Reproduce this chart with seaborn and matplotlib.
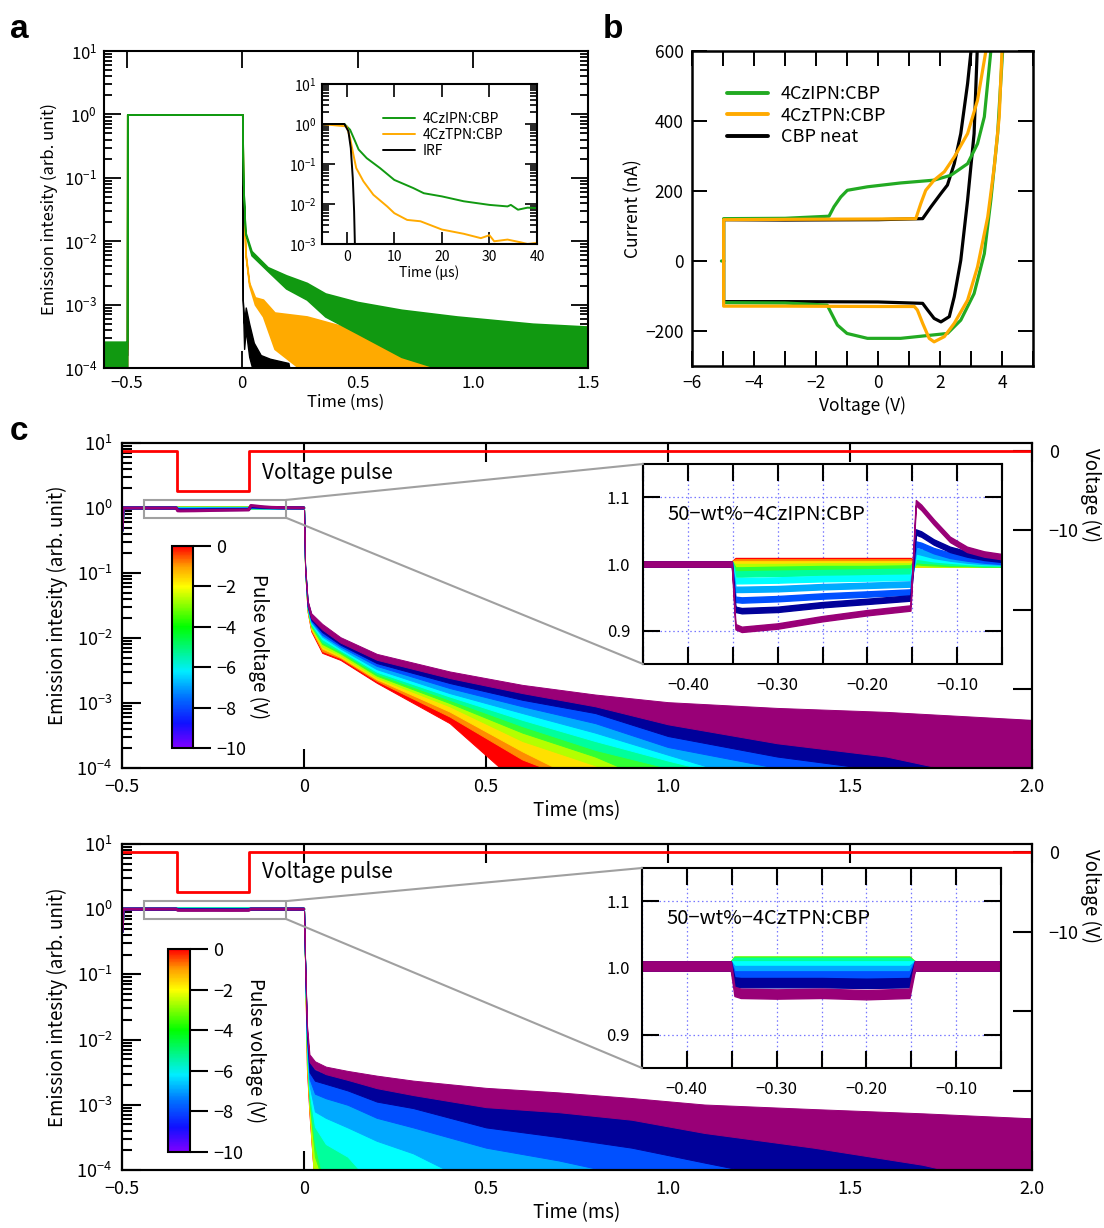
import numpy as np
import matplotlib
matplotlib.use("Agg")
import matplotlib.pyplot as plt
import seaborn as sns
from matplotlib.colors import LinearSegmentedColormap, Normalize
from matplotlib.patches import Rectangle, ConnectionPatch
from matplotlib.ticker import LogLocator, NullFormatter, FuncFormatter, MultipleLocator

# ============================================================ data
# ---- (a) transient emission, ms scale: upper / lower envelopes of each trace
a_ipn_t = [-0.600, -0.500, -0.499, -0.001, 0.000, 0.004, 0.013, 0.040, 0.110, 0.190,
           0.280, 0.360, 0.500, 0.690, 0.930, 1.260, 1.500]
a_ipn_hi = [2.6e-4, 2.6e-4, 1.0, 1.0, 1.0, 8.0e-2, 1.4e-2, 7.0e-3, 3.9e-3, 2.9e-3,
            2.2e-3, 1.5e-3, 1.1e-3, 8.3e-4, 6.5e-4, 5.0e-4, 4.5e-4]
a_ipn_lo = [8.0e-5, 8.0e-5, 1.0, 1.0, 1.0, 8.0e-2, 1.3e-2, 6.0e-3, 3.4e-3, 1.8e-3,
            1.2e-3, 6.5e-4, 3.5e-4, 1.5e-4, 8.0e-5, 8.0e-5, 8.0e-5]

a_tpn_t = [-0.600, -0.500, -0.499, -0.001, 0.000, 0.004, 0.014, 0.030, 0.055, 0.090,
           0.140, 0.280, 0.440, 0.700, 1.000, 1.300, 1.500]
a_tpn_hi = [2.0e-4, 2.0e-4, 1.0, 1.0, 1.0, 6.0e-2, 6.5e-3, 2.2e-3, 1.3e-3, 1.2e-3,
            7.5e-4, 6.5e-4, 4.5e-4, 3.5e-4, 3.5e-4, 4.0e-4, 4.5e-4]
a_tpn_lo = [8.0e-5, 8.0e-5, 1.0, 1.0, 1.0, 6.0e-2, 6.0e-3, 2.0e-3, 1.0e-3, 6.5e-4,
            2.0e-4, 8.0e-5, 8.0e-5, 8.0e-5, 8.0e-5, 8.0e-5, 8.0e-5]

a_irf_t = [-0.600, -0.500, -0.499, -0.001, 0.000, 0.002, 0.008, 0.015, 0.030, 0.050,
           0.080, 0.120, 0.200, 0.210, 1.500]
a_irf_hi = [1.6e-4, 1.6e-4, 1.0, 1.0, 1.0, 1.2e-3, 5.0e-4, 9.0e-4, 5.0e-4, 2.5e-4,
            1.6e-4, 1.4e-4, 1.2e-4, 8.0e-5, 8.0e-5]
a_irf_lo = [8.0e-5, 8.0e-5, 1.0, 1.0, 1.0, 1.2e-3, 2.0e-4, 4.0e-4, 1.5e-4, 8.0e-5,
            8.0e-5, 8.0e-5, 8.0e-5, 8.0e-5, 8.0e-5]

# ---- (a, inset) early decay on the us scale
ai_ipn_t = [-5.3, -0.5, 0.7, 1.76, 2.5, 4.2, 7.0, 10.0, 14.0, 16.2, 20.0, 24.6, 30.0,
            33.8, 34.5, 36.0, 38.0, 40.0]
ai_ipn = [1.0, 1.0, 0.72, 0.37, 0.23, 0.14, 0.079, 0.040, 0.025, 0.0186, 0.0155,
          0.0117, 0.0095, 0.0087, 0.0095, 0.0072, 0.0081, 0.0079]
ai_tpn_t = [-5.3, 0.0, 0.7, 1.4, 2.0, 3.5, 5.6, 8.5, 10.0, 12.7, 15.5, 20.0, 24.6,
            28.2, 30.0, 31.0, 33.8, 36.6, 38.0, 40.0]
ai_tpn = [1.0, 0.87, 0.45, 0.17, 0.079, 0.037, 0.017, 0.0087, 0.0059, 0.0040, 0.0037,
          0.0023, 0.0018, 0.0014, 0.00166, 0.00117, 0.00129, 0.0011, 0.0010, 0.00107]
ai_irf_t = [-5.3, -0.5, 0.35, 0.85, 1.27, 1.55, 1.70, 1.75]
ai_irf = [1.0, 1.0, 0.66, 0.25, 0.045, 0.0066, 0.00117, 0.0006]

# ---- (b) cyclic current-voltage sweeps
b_ipn_v = [-5.05, -4.98, -4.98, -3.0, -1.58, -1.42, -1.20, -0.99, -0.34, 0.73, 1.81,
           2.35, 2.89, 3.21, 3.43, 3.64, 3.75,
           4.05, 4.02, 3.86, 3.64, 3.43, 3.10, 2.67, 2.24, 1.81, 0.73, -0.34, -1.00,
           -1.31, -1.53, -1.64, -3.0, -4.98, -4.98]
b_ipn_i = [0, 0, 121, 122, 128, 155, 183, 202, 212, 223, 231, 245, 278, 335, 412, 600, 720,
           720, 600, 364, 174, 21, -93, -169, -207, -211, -221, -221, -207, -183, -145,
           -126, -120, -119, 0]
b_tpn_v = [-4.98, -4.98, -3.0, 0.0, 1.22, 1.38, 1.54, 1.81, 2.14, 2.46, 2.89, 3.21, 3.48,
           3.56,
           4.02, 4.00, 3.91, 3.75, 3.54, 3.21, 2.89, 2.46, 2.14, 1.81, 1.65, 1.44, 1.27,
           1.17, 0.0, -3.0, -4.98, -4.98]
b_tpn_i = [0, 118, 119, 120, 121, 164, 202, 231, 255, 297, 364, 459, 600, 700,
           700, 600, 412, 269, 126, -17, -112, -178, -216, -231, -221, -178, -140, -130,
           -130, -129, -129, 0]
b_cbp_v = [-4.98, -4.98, -3.0, 0.0, 1.44, 1.71, 2.03, 2.24, 2.46, 2.67, 2.89, 3.00, 3.05,
           3.25, 3.20, 3.10, 2.89, 2.67, 2.46, 2.30, 2.03, 1.81, 1.60, 1.44, 0.0, -3.0,
           -4.98, -4.98]
b_cbp_i = [0, 118, 117, 118, 121, 155, 193, 217, 278, 364, 507, 600, 680,
           680, 600, 364, 174, 2, -102, -159, -174, -164, -140, -121, -117, -116, -116, 0]

# ---- (c) pulse-voltage series, 0 V ... -10 V
pulse_voltages = [0, -1, -2, -3, -4, -5, -6, -7, -8, -9, -10]
trace_colors = ['#ff0000', '#ff8c00', '#ffe000', '#b4ff00', '#33ff33', '#00ff9c',
                '#00ffff', '#00aaff', '#0050ff', '#00009a', '#990077']

# applied voltage pulse (right axis)
vp_t = [-0.50, -0.35, -0.35, -0.15, -0.15, 2.00]
vp_v = [0, 0, -5, -5, 0, 0]

# emission during the bias window (ms, normalised intensity)
win_t = [-0.500, -0.497, -0.351, -0.347, -0.340, -0.300, -0.250, -0.200, -0.152, -0.146,
         -0.140, -0.126, -0.108, -0.089, -0.070, -0.050, -0.001]
ipn_win = [
    [0.45, 1.000, 1.000, 1.005, 1.005, 1.005, 1.005, 1.005, 1.005, 1.000, 1.000, 1.000, 1.000, 1.000, 1.000, 1.000, 1.000],
    [0.45, 1.000, 1.000, 1.003, 1.003, 1.003, 1.003, 1.003, 1.003, 1.000, 1.000, 1.000, 1.000, 1.000, 1.000, 1.000, 1.000],
    [0.45, 1.000, 1.000, 1.000, 1.000, 1.000, 1.000, 1.000, 1.000, 1.000, 1.000, 1.000, 1.000, 1.000, 1.000, 1.000, 1.000],
    [0.45, 1.000, 1.000, 0.996, 0.996, 0.996, 0.997, 0.997, 0.997, 1.001, 1.001, 1.000, 1.000, 1.000, 1.000, 1.000, 1.000],
    [0.45, 1.000, 1.000, 0.991, 0.991, 0.992, 0.993, 0.993, 0.994, 1.004, 1.003, 1.002, 1.001, 1.001, 1.000, 1.000, 1.000],
    [0.45, 1.000, 1.000, 0.985, 0.985, 0.986, 0.987, 0.988, 0.989, 1.007, 1.006, 1.005, 1.003, 1.002, 1.001, 1.001, 1.000],
    [0.45, 1.000, 1.000, 0.975, 0.975, 0.976, 0.978, 0.979, 0.980, 1.012, 1.011, 1.008, 1.006, 1.004, 1.003, 1.002, 1.000],
    [0.45, 1.000, 1.000, 0.962, 0.962, 0.963, 0.966, 0.968, 0.970, 1.020, 1.018, 1.013, 1.009, 1.006, 1.004, 1.003, 1.001],
    [0.45, 1.000, 1.000, 0.947, 0.946, 0.948, 0.952, 0.955, 0.958, 1.030, 1.028, 1.020, 1.013, 1.009, 1.006, 1.004, 1.002],
    [0.45, 1.000, 1.000, 0.932, 0.930, 0.932, 0.939, 0.944, 0.949, 1.048, 1.045, 1.033, 1.022, 1.015, 1.010, 1.007, 1.003],
    [0.45, 1.000, 1.000, 0.906, 0.902, 0.907, 0.918, 0.927, 0.934, 1.092, 1.085, 1.063, 1.037, 1.022, 1.015, 1.011, 1.005],
]
tpn_win = [
    [0.45, 1.003, 1.003, 1.008, 1.008, 1.008, 1.008, 1.008, 1.008, 1.003, 1.003, 1.003, 1.003, 1.003, 1.003, 1.003, 1.003],
    [0.45, 1.003, 1.003, 1.009, 1.009, 1.009, 1.009, 1.009, 1.009, 1.003, 1.003, 1.003, 1.003, 1.003, 1.003, 1.003, 1.003],
    [0.45, 1.003, 1.003, 1.010, 1.010, 1.010, 1.010, 1.010, 1.010, 1.003, 1.003, 1.003, 1.003, 1.003, 1.003, 1.003, 1.003],
    [0.45, 1.003, 1.003, 1.010, 1.010, 1.010, 1.010, 1.010, 1.010, 1.003, 1.003, 1.003, 1.003, 1.003, 1.003, 1.003, 1.003],
    [0.45, 1.003, 1.003, 1.010, 1.010, 1.010, 1.010, 1.010, 1.010, 1.003, 1.003, 1.003, 1.003, 1.003, 1.003, 1.003, 1.003],
    [0.45, 1.003, 1.003, 1.008, 1.008, 1.008, 1.008, 1.008, 1.008, 1.003, 1.003, 1.003, 1.003, 1.003, 1.003, 1.003, 1.003],
    [0.45, 1.003, 1.003, 1.003, 1.003, 1.003, 1.003, 1.003, 1.003, 1.003, 1.003, 1.003, 1.003, 1.003, 1.003, 1.003, 1.003],
    [0.45, 1.003, 1.003, 0.996, 0.996, 0.996, 0.996, 0.996, 0.996, 1.003, 1.003, 1.003, 1.003, 1.003, 1.003, 1.003, 1.003],
    [0.45, 1.003, 1.003, 0.988, 0.988, 0.988, 0.988, 0.988, 0.988, 1.003, 1.003, 1.003, 1.003, 1.003, 1.003, 1.003, 1.003],
    [0.45, 1.003, 1.003, 0.979, 0.978, 0.978, 0.978, 0.977, 0.978, 1.003, 1.003, 1.003, 1.003, 1.003, 1.003, 1.003, 1.003],
    [0.45, 1.003, 1.003, 0.965, 0.962, 0.961, 0.962, 0.960, 0.962, 1.003, 1.003, 1.003, 1.003, 1.003, 1.003, 1.003, 1.003],
]
ipn_win_noise = 0.004
tpn_win_noise = 0.007

# delayed emission after switch-off: mean intensity per trace and noise amplitude
ipn_dec_t = [0.000, 0.003, 0.010, 0.020, 0.050, 0.100, 0.200, 0.400, 0.600, 0.800,
             1.000, 1.300, 1.600, 2.000]
ipn_dec_noise = [0.0, 6e-3, 3e-3, 2e-3, 1.5e-3, 9e-4, 5.4e-4, 3.2e-4, 2.4e-4, 2.3e-4,
                 2.8e-4, 3.0e-4, 2.9e-4, 2.8e-4]
ipn_dec = [
    [1.0, 0.115, 0.0281, 0.0146, 0.0074, 0.0055, 2.58e-3, 8.1e-4, 2.4e-4, 1.8e-4, 1.9e-4, 1.6e-4, 1.4e-4, 1.4e-4],
    [1.0, 0.116, 0.0287, 0.0152, 0.0078, 0.0058, 2.73e-3, 9.4e-4, 3.75e-4, 2.0e-4, 2.1e-4, 1.8e-4, 1.6e-4, 1.5e-4],
    [1.0, 0.117, 0.0293, 0.0158, 0.0084, 0.0060, 2.86e-3, 1.06e-3, 4.2e-4, 2.2e-4, 2.3e-4, 2.0e-4, 1.8e-4, 1.6e-4],
    [1.0, 0.118, 0.0299, 0.0165, 0.0089, 0.0063, 2.99e-3, 1.21e-3, 5.0e-4, 3.4e-4, 2.5e-4, 2.2e-4, 2.0e-4, 1.8e-4],
    [1.0, 0.119, 0.0305, 0.0171, 0.0096, 0.0067, 3.17e-3, 1.32e-3, 5.9e-4, 3.8e-4, 2.7e-4, 2.4e-4, 2.2e-4, 1.9e-4],
    [1.0, 0.120, 0.0312, 0.0179, 0.0102, 0.0071, 3.36e-3, 1.44e-3, 6.8e-4, 4.2e-4, 3.8e-4, 2.6e-4, 2.4e-4, 2.0e-4],
    [1.0, 0.121, 0.0318, 0.0186, 0.0111, 0.0074, 3.56e-3, 1.58e-3, 7.9e-4, 4.9e-4, 4.1e-4, 2.8e-4, 2.6e-4, 2.1e-4],
    [1.0, 0.122, 0.0325, 0.0194, 0.0120, 0.0078, 3.85e-3, 1.74e-3, 9.4e-4, 5.8e-4, 4.4e-4, 3.0e-4, 2.8e-4, 2.3e-4],
    [1.0, 0.123, 0.0332, 0.0202, 0.0127, 0.0083, 4.26e-3, 2.02e-3, 1.13e-3, 7.2e-4, 4.9e-4, 4.0e-4, 3.2e-4, 2.5e-4],
    [1.0, 0.124, 0.0339, 0.0211, 0.0138, 0.0088, 4.65e-3, 2.35e-3, 1.36e-3, 9.3e-4, 5.9e-4, 4.5e-4, 3.8e-4, 2.6e-4],
    [1.0, 0.125, 0.0346, 0.0220, 0.0150, 0.0094, 5.16e-3, 2.74e-3, 1.66e-3, 1.12e-3, 7.5e-4, 5.4e-4, 4.4e-4, 2.7e-4],
]
tpn_dec_t = [0.000, 0.003, 0.008, 0.015, 0.030, 0.060, 0.120, 0.200, 0.300, 0.500,
             0.700, 0.900, 1.100, 1.400, 1.700, 2.000]
tpn_dec_noise = [0.0, 5e-3, 1.5e-3, 7e-4, 5.5e-4, 4.5e-4, 4.5e-4, 5e-4, 4.7e-4, 4.5e-4,
                 3.9e-4, 3.4e-4, 3.2e-4, 3.2e-4, 3.1e-4, 3.1e-4]
tpn_dec = [
    [1.0, 0.140, 0.0050, 1.41e-3, 4.1e-4, 2.8e-4, 2.4e-4, 2.0e-4, 1.9e-4, 1.8e-4, 1.7e-4, 1.6e-4, 1.5e-4, 1.4e-4, 1.3e-4, 1.2e-4],
    [1.0, 0.142, 0.0056, 1.49e-3, 4.4e-4, 3.0e-4, 2.6e-4, 2.2e-4, 2.1e-4, 2.0e-4, 1.9e-4, 1.8e-4, 1.7e-4, 1.6e-4, 1.5e-4, 1.4e-4],
    [1.0, 0.144, 0.0063, 1.59e-3, 4.7e-4, 3.3e-4, 2.8e-4, 2.4e-4, 2.3e-4, 2.2e-4, 2.1e-4, 2.0e-4, 1.9e-4, 1.8e-4, 1.7e-4, 1.6e-4],
    [1.0, 0.146, 0.0071, 1.70e-3, 5.0e-4, 3.6e-4, 3.1e-4, 2.7e-4, 2.6e-4, 2.4e-4, 2.3e-4, 2.2e-4, 2.1e-4, 2.0e-4, 1.9e-4, 1.8e-4],
    [1.0, 0.148, 0.0079, 1.82e-3, 7.1e-4, 4.0e-4, 3.4e-4, 3.0e-4, 2.9e-4, 2.7e-4, 2.5e-4, 2.4e-4, 2.3e-4, 2.2e-4, 2.1e-4, 2.0e-4],
    [1.0, 0.150, 0.0089, 1.96e-3, 8.0e-4, 4.4e-4, 3.8e-4, 3.5e-4, 3.3e-4, 3.0e-4, 2.8e-4, 2.7e-4, 2.6e-4, 2.4e-4, 2.3e-4, 2.2e-4],
    [1.0, 0.152, 0.0100, 2.28e-3, 1.01e-3, 7.0e-4, 6.1e-4, 4.5e-4, 4.0e-4, 3.4e-4, 3.2e-4, 3.0e-4, 2.9e-4, 2.7e-4, 2.5e-4, 2.4e-4],
    [1.0, 0.154, 0.0112, 2.70e-3, 1.34e-3, 1.08e-3, 9.0e-4, 7.8e-4, 6.5e-4, 4.2e-4, 3.8e-4, 3.5e-4, 3.3e-4, 3.0e-4, 2.8e-4, 2.6e-4],
    [1.0, 0.156, 0.0126, 3.21e-3, 2.03e-3, 1.71e-3, 1.45e-3, 1.13e-3, 9.2e-4, 6.7e-4, 5.3e-4, 4.2e-4, 3.8e-4, 3.4e-4, 3.1e-4, 2.8e-4],
    [1.0, 0.158, 0.0141, 3.86e-3, 2.89e-3, 2.54e-3, 2.11e-3, 1.62e-3, 1.36e-3, 9.0e-4, 7.1e-4, 5.6e-4, 4.5e-4, 3.8e-4, 3.4e-4, 3.0e-4],
    [1.0, 0.160, 0.0158, 5.25e-3, 4.10e-3, 3.40e-3, 2.86e-3, 2.30e-3, 1.88e-3, 1.37e-3, 1.16e-3, 9.3e-4, 6.9e-4, 5.4e-4, 4.3e-4, 3.1e-4],
]

# ============================================================ style
sns.set_theme(style="ticks")
plt.rcParams.update({
    "font.family": ["Noto Sans CJK JP", "DejaVu Sans"],
    "mathtext.fontset": "custom",
    "mathtext.rm": "Noto Sans CJK JP",
    "mathtext.it": "Noto Sans CJK JP",
    "mathtext.bf": "Noto Sans CJK JP",
    "axes.linewidth": 1.5,
    "axes.edgecolor": "black",
    "xtick.color": "black",
    "ytick.color": "black",
    "text.color": "black",
    "axes.labelcolor": "black",
    "axes.unicode_minus": True,
})

W, H = 1104, 1228
fig = plt.figure(figsize=(W / 100, H / 100), dpi=100)
FLOOR = 5e-5


def box(l, t, r, b):
    return [l / W, 1 - b / H, (r - l) / W, (b - t) / H]


def signed(nd):
    def f(v, pos):
        if abs(v) < 1e-9:
            return "0"
        return f"{v:.{nd}f}".replace("-", "\u2212")
    return FuncFormatter(f)


def log_y(ax, ymin, ymax):
    ax.set_yscale("log")
    ax.set_ylim(ymin, ymax)
    ax.yaxis.set_major_locator(LogLocator(base=10, numticks=12))
    ax.yaxis.set_minor_locator(LogLocator(base=10, subs=np.arange(2, 10), numticks=12))
    ax.yaxis.set_minor_formatter(NullFormatter())


MINUS = "\u2212"

# ============================================================ panel a
ax_a = fig.add_axes(box(104, 51, 588, 368))
ax_a.fill_between(a_tpn_t, a_tpn_lo, a_tpn_hi, color="#ffaa00", lw=1.2)
ax_a.fill_between(a_irf_t, a_irf_lo, a_irf_hi, color="black", lw=1.0)
ax_a.fill_between(a_ipn_t, a_ipn_lo, a_ipn_hi, color="#119911", lw=1.2)
ax_a.set_xlim(-0.6, 1.5)
log_y(ax_a, 1e-4, 1e1)
ax_a.set_xticks([-0.5, 0, 0.5, 1.0, 1.5])
ax_a.xaxis.set_major_formatter(signed(1))
ax_a.tick_params(which="both", direction="in", top=True, right=True, width=1.3,
                 labelsize=12, pad=5)
ax_a.tick_params(which="major", length=12)
ax_a.tick_params(which="minor", length=6)
ax_a.set_xlabel("Time (ms)", fontsize=12, labelpad=1)
ax_a.set_ylabel("Emission intesity (arb. unit)", fontsize=12, labelpad=4)

ax_ai = fig.add_axes(box(322, 84, 537, 244))
sns.lineplot(x=ai_ipn_t, y=ai_ipn, ax=ax_ai, color="#119911", lw=1.4, sort=False,
             estimator=None, label="4CzIPN:CBP")
sns.lineplot(x=ai_tpn_t, y=ai_tpn, ax=ax_ai, color="#ffaa00", lw=1.4, sort=False,
             estimator=None, label="4CzTPN:CBP")
sns.lineplot(x=ai_irf_t, y=ai_irf, ax=ax_ai, color="black", lw=1.4, sort=False,
             estimator=None, label="IRF")
ax_ai.set_xlim(-5.2, 40)
log_y(ax_ai, 1e-3, 1e1)
ax_ai.set_xticks([0, 10, 20, 30, 40])
ax_ai.tick_params(which="both", direction="in", top=True, right=True, width=1.2,
                  labelsize=10, pad=4)
ax_ai.tick_params(which="major", length=9)
ax_ai.tick_params(which="minor", length=5)
ax_ai.set_xlabel("Time (\u03bcs)", fontsize=10, labelpad=1)
ax_ai.set_ylabel("")
ax_ai.legend(loc="upper left", bbox_to_anchor=(0.26, 0.86), frameon=False, fontsize=10,
             handlelength=2.3, handletextpad=0.5, labelspacing=0.15, borderaxespad=0)

# ============================================================ panel b
ax_b = fig.add_axes(box(692, 51, 1033, 366))
sns.lineplot(x=b_cbp_v, y=b_cbp_i, ax=ax_b, color="black", lw=2.3, sort=False,
             estimator=None, label="CBP neat")
sns.lineplot(x=b_ipn_v, y=b_ipn_i, ax=ax_b, color="#22aa22", lw=2.3, sort=False,
             estimator=None, label="4CzIPN:CBP")
sns.lineplot(x=b_tpn_v, y=b_tpn_i, ax=ax_b, color="#ffaa00", lw=2.3, sort=False,
             estimator=None, label="4CzTPN:CBP")
ax_b.set_xlim(-6, 5)
ax_b.set_ylim(-300, 600)
ax_b.xaxis.set_major_locator(MultipleLocator(1))
ax_b.xaxis.set_major_formatter(FuncFormatter(
    lambda v, p: (f"{v:.0f}".replace("-", MINUS) if round(v) % 2 == 0 else "")))
ax_b.set_yticks([-200, 0, 200, 400, 600])
ax_b.yaxis.set_major_formatter(signed(0))
ax_b.tick_params(direction="in", top=True, right=True, length=11, width=1.4,
                 labelsize=12.5, pad=6)
for s in ax_b.spines.values():
    s.set_linewidth(1.8)
ax_b.set_xlabel("Voltage (V)", fontsize=12.5, labelpad=3)
ax_b.set_ylabel("Current (nA)", fontsize=12.5, labelpad=2)
hb, lb = ax_b.get_legend_handles_labels()
order = [1, 2, 0]
ax_b.legend([hb[i] for i in order], [lb[i] for i in order], loc="upper left",
            bbox_to_anchor=(0.08, 0.915), frameon=False, fontsize=13, handlelength=2.3,
            handletextpad=0.7, labelspacing=0.2, borderaxespad=0)
for ln in ax_b.get_legend().get_lines():
    ln.set_linewidth(2.8)

# ============================================================ panel c
cmap = LinearSegmentedColormap.from_list("pulse", [
    (0.00, "#8000ff"), (0.12, "#1010ff"), (0.25, "#0070ff"), (0.38, "#00eeff"),
    (0.60, "#00ff00"), (0.80, "#ffff00"), (0.90, "#ffa000"), (1.00, "#ff0000")])


def draw_c(frame, inset, cbar, win_rows, win_noise, dec_t, dec_noise, dec_rows,
           sample, vtext_y):
    ax = fig.add_axes(box(*frame))
    for col, row in zip(trace_colors, win_rows):
        ax.plot(win_t, row, color=col, lw=2.2)
    nz = np.asarray(dec_noise)
    for col, row in zip(trace_colors, dec_rows):
        row = np.asarray(row)
        ax.fill_between(dec_t, np.maximum(row - nz, FLOOR), row + nz, color=col, lw=0.7)
    ax.set_xlim(-0.5, 2.0)
    log_y(ax, 1e-4, 1e1)
    ax.set_xticks([-0.5, 0, 0.5, 1.0, 1.5, 2.0])
    ax.xaxis.set_major_formatter(signed(1))
    ax.tick_params(which="both", direction="in", top=True, right=False, width=1.5,
                   labelsize=13, pad=7)
    ax.tick_params(which="major", length=14)
    ax.tick_params(which="minor", length=7)
    ax.set_xlabel("Time (ms)", fontsize=13.5, labelpad=3)
    ax.set_ylabel("Emission intesity (arb. unit)", fontsize=13.5, labelpad=6)
    ax.text(-0.115, vtext_y, "Voltage pulse", fontsize=15, va="center", ha="left")

    ax.add_patch(Rectangle((-0.44, 0.71), 0.39, 0.62, fill=False, ec="#a0a0a0", lw=1.5,
                           zorder=5))

    ax2 = ax.twinx()
    ax2.plot(vp_t, vp_v, color="red", lw=2)
    ax2.set_ylim(-40, 1.05)
    ax2.set_yticks([0, -10, -20, -30])
    ax2.set_yticklabels(["0", MINUS + "10", "", ""])
    ax2.tick_params(direction="in", length=14, width=1.5, labelsize=13, pad=12)
    ax2.set_ylabel("Voltage (V)", rotation=270, fontsize=13.5, va="center", ha="center")
    ax2.yaxis.set_label_coords(1.064, 0.84)
    for s in ax2.spines.values():
        s.set_linewidth(1.5)

    axi = fig.add_axes(box(*inset))
    for col, row in zip(trace_colors, win_rows):
        row = np.asarray(row)
        axi.fill_between(win_t, row - win_noise, row + win_noise, color=col, lw=1.0)
    axi.set_xlim(-0.45, -0.05)
    axi.set_ylim(0.85, 1.15)
    axi.xaxis.set_major_locator(MultipleLocator(0.05))
    axi.xaxis.set_major_formatter(FuncFormatter(
        lambda v, p: (f"{v:.2f}".replace("-", MINUS)
                      if abs(v * 10 - round(v * 10)) < 1e-6 else "")))
    axi.set_yticks([0.9, 1.0, 1.1])
    axi.yaxis.set_major_formatter(FuncFormatter(lambda v, p: f"{v:.1f}"))
    axi.grid(True, color="#7777ff", ls=(0, (1.2, 2.2)), lw=0.9)
    axi.tick_params(direction="in", top=True, right=True, length=12, width=1.5,
                    labelsize=12, pad=9)
    for s in axi.spines.values():
        s.set_linewidth(1.5)
    axi.text(-0.4225, 1.075, sample, fontsize=14.5, va="center", ha="left")

    for xa, ya, yb in [(-0.05, 1.33, 1.0), (-0.05, 0.71, 0.0)]:
        con = ConnectionPatch(xyA=(xa, ya), coordsA=ax.transData, xyB=(0, yb),
                              coordsB=axi.transAxes, color="#a0a0a0", lw=1.5)
        fig.add_artist(con)

    cax = fig.add_axes(box(*cbar))
    sm = plt.cm.ScalarMappable(norm=Normalize(-10, 0), cmap=cmap)
    cb = fig.colorbar(sm, cax=cax, ticks=[0, -2, -4, -6, -8, -10])
    cb.ax.yaxis.set_major_formatter(signed(0))
    cb.ax.tick_params(direction="out", length=13, width=1.5, labelsize=13, pad=4)
    cb.outline.set_linewidth(1.5)
    cb.set_label("Pulse voltage (V)", rotation=270, fontsize=13.5, labelpad=16)
    return ax


draw_c((122, 443, 1032, 768), (643, 464, 1002, 664), (172, 546, 193, 748),
       ipn_win, ipn_win_noise, ipn_dec_t, ipn_dec_noise, ipn_dec,
       "50\u2212wt%\u22124CzIPN:CBP", 3.4)
draw_c((122, 844, 1032, 1170), (642, 868, 1001, 1068), (168, 949, 190, 1152),
       tpn_win, tpn_win_noise, tpn_dec_t, tpn_dec_noise, tpn_dec,
       "50\u2212wt%\u22124CzTPN:CBP", 3.7)

# panel letters
for x, y, s in [(10, 38, "a"), (603, 38, "b"), (10, 440, "c")]:
    fig.text(x / W, 1 - y / H, s, fontsize=24, fontweight="bold",
             family="Liberation Sans", va="baseline", ha="left")

fig.savefig("out.png", dpi=100)
